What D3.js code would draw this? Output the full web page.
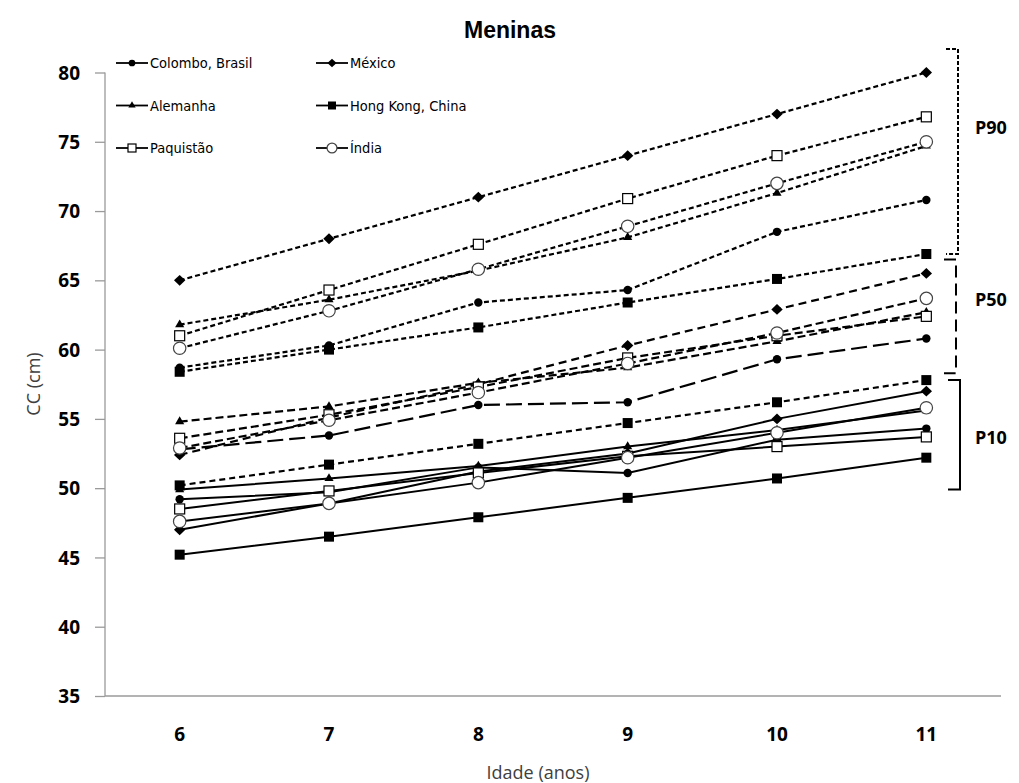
<!DOCTYPE html>
<html>
<head>
<meta charset="utf-8">
<script src="https://cdn.jsdelivr.net/npm/d3@7"></script>
<style>
  body { margin: 0; background: #fff; }
  svg { display: block; }
  .tick text { font-family: "Open Sans", "DejaVu Sans", sans-serif; font-weight: bold; font-size: 19px; fill: #000; }
  .legend text { font-family: "Liberation Sans Narrow", "DejaVu Sans Condensed", "Open Sans", sans-serif; font-size: 14.5px; fill: #000; }
</style>
</head>
<body>
<svg id="chart" width="1019" height="783"></svg>
<script>
// data (waist circumference, girls)
const ages = ["6", "7", "8", "9", "10", "11"];
const countries = ["Colombo, Brasil", "México", "Alemanha", "Hong Kong, China", "Paquistão", "Índia"];
const symbols = ["dot", "diamond", "triangle", "square", "openSquare", "openCircle"];

// one row per country, same order as countries
const p90 = [
  [58.7, 60.3, 63.4, 64.3, 68.5, 70.8],
  [65.0, 68.0, 71.0, 74.0, 77.0, 80.0],
  [61.8, 63.6, 65.7, 68.1, 71.3, 74.7],
  [58.4, 60.0, 61.6, 63.4, 65.1, 66.9],
  [61.0, 64.3, 67.6, 70.9, 74.0, 76.8],
  [60.1, 62.8, 65.8, 68.9, 72.0, 75.0]
];
const p50 = [
  [52.8, 53.8, 56.0, 56.2, 59.3, 60.8],
  [52.4, 55.1, 57.5, 60.3, 62.9, 65.5],
  [54.8, 55.9, 57.6, 58.7, 60.6, 62.7],
  [50.2, 51.7, 53.2, 54.7, 56.2, 57.8],
  [53.6, 55.3, 57.3, 59.4, 61.0, 62.4],
  [52.9, 54.9, 56.9, 59.0, 61.2, 63.7]
];
const p10 = [
  [49.2, 49.7, 51.5, 51.1, 53.5, 54.3],
  [47.0, 48.9, 51.2, 52.5, 55.0, 57.0],
  [49.9, 50.7, 51.6, 53.0, 54.2, 55.6],
  [45.2, 46.5, 47.9, 49.3, 50.7, 52.2],
  [48.5, 49.8, 51.1, 52.3, 53.0, 53.7],
  [47.6, 48.9, 50.4, 52.2, 54.0, 55.8]
];
// dash pattern per country for P50 (Excel had them mixed)
const p50Dash = ["16,6", "8,5", "8,4", "6,4", "8,4", "8,4"];

const brackets = [
  { label: "P90", top: 81.7, bottom: 66.9, labelAt: 76.0, dash: "4,2", x: 958 },
  { label: "P50", top: 66.5, bottom: 58.3, labelAt: 63.6, dash: "12,6", x: 956 },
  { label: "P10", top: 57.8, bottom: 49.9, labelAt: 53.6, dash: null, x: 960 }
];

const svg = d3.select("#chart");
const margin = { left: 105, right: 18, top: 72.5, bottom: 87 };
const W = 1019, H = 783;

const x = d3.scaleBand().domain(ages).range([margin.left, W - margin.right]);
const y = d3.scaleLinear().domain([35, 80]).range([H - margin.bottom, margin.top]);

// axes
const yAxis = svg.append("g")
  .attr("transform", `translate(${margin.left},0)`)
  .call(d3.axisLeft(y).tickValues(d3.range(35, 81, 5)).tickSize(10).tickPadding(15));
const xAxis = svg.append("g")
  .attr("transform", `translate(0,${H - margin.bottom})`)
  .call(d3.axisBottom(x).tickSize(0).tickPadding(32));

// x ticks sit between categories
xAxis.selectAll(".sep")
  .data(ages)
  .enter().append("line")
  .attr("x1", d => x(d) + x.bandwidth())
  .attr("x2", d => x(d) + x.bandwidth())
  .attr("y1", 0).attr("y2", 9);
svg.selectAll(".domain, .tick line, .sep").attr("stroke", "#9a9a9a").attr("stroke-width", 1.3);
xAxis.select(".domain").attr("d", `M${margin.left},0H${W - margin.right}`);
yAxis.select(".domain").attr("d", `M0,${margin.top}V${H - margin.bottom}`);
yAxis.selectAll(".tick text").attr("dy", "0.35em");

// titles
svg.append("text").attr("x", 510).attr("y", 38).attr("text-anchor", "middle")
  .attr("fill", "#000")
  .style("font-family", "Liberation Sans, Arial, sans-serif").style("font-weight", "bold").style("font-size", "23px")
  .text("Meninas");
svg.append("text").attr("transform", "translate(40,384) rotate(-90)").attr("text-anchor", "middle")
  .attr("fill", "#404040")
  .style("font-family", "Open Sans, sans-serif").style("font-size", "18px")
  .text("CC (cm)");
svg.append("text").attr("x", 538).attr("y", 779).attr("text-anchor", "middle")
  .attr("fill", "#404040")
  .style("font-family", "Open Sans, sans-serif").style("font-size", "18px")
  .text("Idade (anos)");

const cx = d => x(d) + x.bandwidth() / 2;

function drawMarker(g, kind, s) {
  if (kind === "dot") g.append("circle").attr("r", s * 0.42).attr("fill", "#000");
  if (kind === "diamond") g.append("path").attr("d", d3.symbol(d3.symbolDiamond2, s * s * 0.75)()).attr("fill", "#000").attr("transform", "scale(1.05,1)");
  if (kind === "triangle") g.append("path").attr("d", d3.symbol(d3.symbolTriangle2, s * s * 0.6)()).attr("fill", "#000");
  if (kind === "square") g.append("rect").attr("x", -s / 2).attr("y", -s / 2).attr("width", s).attr("height", s).attr("fill", "#000");
  if (kind === "openSquare") g.append("rect").attr("x", -s / 2).attr("y", -s / 2).attr("width", s).attr("height", s).attr("fill", "#fff").attr("stroke", "#000").attr("stroke-width", 1.2);
  if (kind === "openCircle") g.append("circle").attr("r", s * 0.62).attr("fill", "#fff").attr("stroke", "#444").attr("stroke-width", 1.2);
}

const line = d3.line().x((v, i) => cx(ages[i])).y(v => y(v));

function drawGroup(rows, dashFor, width) {
  rows.forEach((vals, c) => {
    svg.append("path").datum(vals)
      .attr("d", line).attr("fill", "none").attr("stroke", "#000")
      .attr("stroke-width", width)
      .attr("stroke-dasharray", dashFor(c));
  });
  rows.forEach((vals, c) => {
    svg.selectAll(null).data(vals).enter().append("g")
      .attr("transform", (v, i) => `translate(${cx(ages[i])},${y(v)})`)
      .each(function () { drawMarker(d3.select(this), symbols[c], 10); });
  });
}

drawGroup(p10, () => null, 2);
drawGroup(p50, c => p50Dash[c], 2.2);
drawGroup(p90, () => "5,3", 2.2);

// percentile brackets
brackets.forEach(b => {
  const t = y(b.top), bt = y(b.bottom);
  svg.append("path")
    .attr("d", `M${b.x - 12},${t}H${b.x}V${bt}H${b.x - 12}`)
    .attr("fill", "none").attr("stroke", "#000").attr("stroke-width", 2)
    .attr("stroke-dasharray", b.dash);
  svg.append("text").attr("x", 975).attr("y", y(b.labelAt) + 6)
    .attr("fill", "#000")
    .style("font-family", "Open Sans, sans-serif").style("font-weight", "bold").style("font-size", "18px")
    .text(b.label);
});

// legend, two columns
const legend = svg.append("g").attr("class", "legend");
const items = legend.selectAll("g").data(countries).enter().append("g")
  .attr("transform", (d, i) => `translate(${i % 2 === 0 ? 116 : 316},${63 + Math.floor(i / 2) * 42.5})`);
items.append("line").attr("x1", 0).attr("x2", 32).attr("stroke", "#000").attr("stroke-width", 1.8);
items.append("g").attr("transform", "translate(16,0)")
  .each(function (d, i) { drawMarker(d3.select(this), symbols[i], 8); });
items.append("text").attr("x", 34).attr("dy", "0.35em").text(d => d);
</script>
</body>
</html>
